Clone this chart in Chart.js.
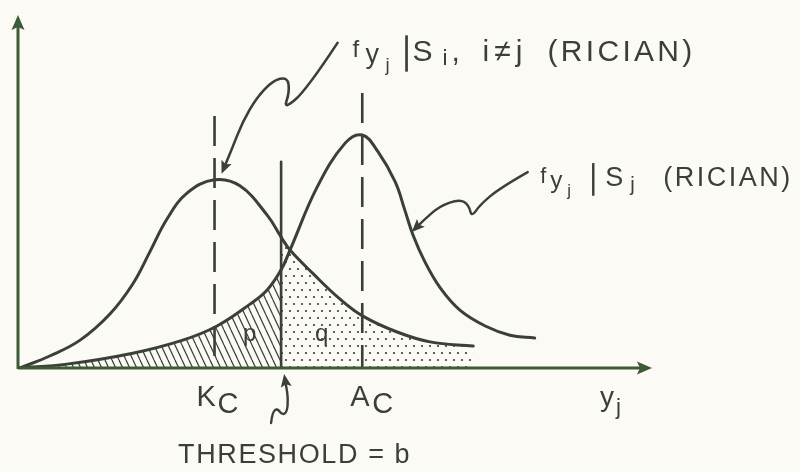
<!DOCTYPE html>
<html>
<head>
<meta charset="utf-8">
<script src="https://cdn.jsdelivr.net/npm/chart.js@4.4.1/dist/chart.umd.min.js"></script>
<style>
  html, body { margin: 0; padding: 0; background: #fbfaf5; }
  #wrap { width: 800px; height: 472px; }
</style>
</head>
<body>
<div id="wrap"><canvas id="c" width="800" height="472"></canvas></div>
<script>
// Envelope samples y_j and the two conditional Rician densities
const siX = [0.03, 0.50, 0.98, 1.45, 1.81, 2.08, 2.35, 2.67, 3.10, 3.50, 3.93, 4.15, 4.29, 4.65, 5.08, 5.44, 5.98, 6.50, 7.18];
const siY = [0.00, 0.034, 0.079, 0.153, 0.238, 0.329, 0.422, 0.496, 0.533, 0.516, 0.433, 0.371, 0.334, 0.268, 0.195, 0.147, 0.102, 0.074, 0.062];

const sjX = [0.03, 0.77, 1.81, 2.60, 3.14, 3.66, 3.93, 4.15, 4.29, 4.72, 5.16, 5.43, 5.68, 5.95, 6.10, 6.23, 6.42, 6.66, 6.97, 7.37, 7.76, 8.15];
const sjY = [0.00, 0.011, 0.042, 0.079, 0.119, 0.181, 0.221, 0.278, 0.334, 0.513, 0.637, 0.660, 0.612, 0.527, 0.448, 0.377, 0.300, 0.227, 0.164, 0.119, 0.093, 0.085];

// Marker positions on the y_j axis
const kC = 3.10;
const aC = 5.43;
const threshold = 4.15;
const markerTops = { kC: 0.714, aC: 0.779, threshold: 0.584 };

const ink = '#3a4036';
const axisInk = '#3d5a37';
const paper = '#fbfaf5';

const siPts = siX.map((x, i) => ({ x, y: siY[i] }));
const sjPts = sjX.map((x, i) => ({ x, y: sjY[i] }));
const siB = siX.indexOf(threshold);
const sjB = sjX.indexOf(threshold);

const canvas = document.getElementById('c');
const mainCtx = canvas.getContext('2d');

// Fill patterns: diagonal hatching (p) and staggered stipple (q)
function hatchPattern() {
  const t = document.createElement('canvas');
  t.width = 7; t.height = 15;
  const g = t.getContext('2d');
  g.strokeStyle = ink; g.lineWidth = 1.2;
  for (const off of [-7, 0, 7]) {
    g.beginPath(); g.moveTo(off, 0); g.lineTo(off + 7, 15); g.stroke();
  }
  return mainCtx.createPattern(t, 'repeat');
}
function dotPattern() {
  const t = document.createElement('canvas');
  t.width = 8; t.height = 14;
  const g = t.getContext('2d');
  g.fillStyle = ink;
  for (const [x, y] of [[2, 3], [6, 10]]) {
    g.beginPath(); g.arc(x, y, 1.1, 0, Math.PI * 2); g.fill();
  }
  return mainCtx.createPattern(t, 'repeat');
}
const hatch = hatchPattern();
const dots = dotPattern();
const clear = 'rgba(0,0,0,0)';

function vline(x, top, dash) {
  return {
    data: [{ x, y: top }, { x, y: 0 }],
    borderColor: ink, borderWidth: 2.6, borderDash: dash,
    pointRadius: 0, fill: false, tension: 0, borderCapStyle: 'butt'
  };
}

// Smooth hand-drawn leader with an arrowhead at its last point
function leader(ctx, pts, width) {
  ctx.save();
  ctx.strokeStyle = ink; ctx.fillStyle = ink;
  ctx.lineWidth = width; ctx.lineCap = 'round'; ctx.lineJoin = 'round';
  ctx.beginPath();
  ctx.moveTo(pts[0][0], pts[0][1]);
  for (let i = 1; i < pts.length - 1; i++) {
    const mx = (pts[i][0] + pts[i + 1][0]) / 2, my = (pts[i][1] + pts[i + 1][1]) / 2;
    ctx.quadraticCurveTo(pts[i][0], pts[i][1], mx, my);
  }
  const n = pts.length;
  const tip = pts[n - 1], prev = pts[n - 2];
  const ang = Math.atan2(tip[1] - prev[1], tip[0] - prev[0]);
  const bx = tip[0] - Math.cos(ang) * 10, by = tip[1] - Math.sin(ang) * 10;
  ctx.lineTo(bx, by);
  ctx.stroke();
  arrowHead(ctx, tip[0], tip[1], ang, 13, 5.5, ink);
  ctx.restore();
}
function arrowHead(ctx, x, y, ang, len, half, color) {
  ctx.save();
  ctx.translate(x, y); ctx.rotate(ang);
  ctx.fillStyle = color;
  ctx.beginPath();
  ctx.moveTo(0, 0); ctx.lineTo(-len, -half); ctx.lineTo(-len * 0.8, 0); ctx.lineTo(-len, half);
  ctx.closePath(); ctx.fill();
  ctx.restore();
}

// Caption made of placed runs: each run has its own x offset, size ratio and baseline shift.
// A run with bar:true is the tall "|" of the conditional density.
function drawCaption(ctx, x, y, size, spacing, runs) {
  ctx.save();
  ctx.fillStyle = ink; ctx.strokeStyle = ink;
  ctx.textBaseline = 'alphabetic'; ctx.textAlign = 'left';
  for (const r of runs) {
    const rx = x + r.at;
    if (r.bar) {
      ctx.lineWidth = size * 0.09;
      ctx.beginPath();
      ctx.moveTo(rx, y - size * 0.85); ctx.lineTo(rx, y + size * 0.36);
      ctx.stroke();
      continue;
    }
    const s = size * (r.s || 1);
    ctx.font = `${s}px "Liberation Sans", Arial, sans-serif`;
    ctx.letterSpacing = (r.ls !== undefined ? r.ls : spacing) + 'px';
    ctx.fillText(r.t, rx, y + (r.dy || 0) * size);
  }
  ctx.restore();
}

const overlay = {
  id: 'overlay',
  afterDatasetsDraw(chart) {
    const { ctx, scales: { x: xs, y: ys } } = chart;
    const P = (xv, yv) => [xs.getPixelForValue(xv), ys.getPixelForValue(yv)];
    const [ox, oy] = P(0, 0);
    const [ex] = P(xs.max, 0);
    const [, ty] = P(0, ys.max);

    // axes with arrowheads
    ctx.save();
    ctx.strokeStyle = axisInk; ctx.lineWidth = 3; ctx.lineCap = 'butt';
    ctx.beginPath();
    ctx.moveTo(ox, oy); ctx.lineTo(ex - 10, oy);
    ctx.moveTo(ox, oy + 1); ctx.lineTo(ox, ty + 10);
    ctx.stroke();
    ctx.restore();
    arrowHead(ctx, ex, oy, 0, 15, 6.5, axisInk);
    arrowHead(ctx, ox, ty, -Math.PI / 2, 15, 6.5, axisInk);

    // leaders from the captions to the curves, and to the threshold
    const rel = (anchor, offs) => offs.map(([dx, dy]) => [anchor[0] + dx, anchor[1] + dy]);
    const siPeak = P(kC, siY[siX.indexOf(kC)]);
    leader(ctx, rel(siPeak, [[123, -137], [92, -90], [69, -70], [75, -88], [73, -103], [58, -99],
      [42, -82], [28, -58], [17, -30], [7, -6]]), 2.6);
    const sjTip = P(6.21, 0.385);
    leader(ctx, rel(sjTip, [[116, -60], [88, -44], [68, -27], [60, -15], [57, -27], [48, -33],
      [28, -26], [12, -12], [0, 0]]), 2.4);
    const bBase = P(threshold, 0);
    leader(ctx, rel(bBase, [[-10, 55], [-9, 45], [-4, 40], [1, 47], [6, 44], [7, 30], [5, 18], [3, 6]]), 2.4);

    // captions
    const sjPeak = P(aC, sjY[sjX.indexOf(aC)]);
    drawCaption(ctx, siPeak[0] + 138, siPeak[1] - 119, 30, 3.3, [
      { t: 'f', at: 0, s: 0.8, dy: -0.12 }, { t: 'y', at: 13, s: 0.9, dy: 0.08 }, { t: 'j', at: 33, s: 0.62, dy: 0.34 },
      { bar: true, at: 54 },
      { t: 'S', at: 60 }, { t: 'i', at: 90, s: 0.75, dy: 0.15 }, { t: ',', at: 99 },
      { t: 'i≠j', at: 130, ls: 5 }, { t: '(RICIAN)', at: 195 }
    ]);
    drawCaption(ctx, sjPeak[0] + 178, sjPeak[1] + 51, 27, 2.5, [
      { t: 'f', at: 0, s: 0.8, dy: -0.12 }, { t: 'y', at: 10, s: 0.9, dy: 0.08 }, { t: 'j', at: 27, s: 0.62, dy: 0.36 },
      { bar: true, at: 53 },
      { t: 'S', at: 65 }, { t: 'j', at: 90, s: 0.75, dy: 0.18 },
      { t: '(RICIAN)', at: 123 }
    ]);
    drawCaption(ctx, P(kC, 0)[0] - 18, oy + 38, 29, 0, [{ t: 'K', at: 0 }, { t: 'C', at: 21, dy: 0.25 }]);
    drawCaption(ctx, P(aC, 0)[0] - 12, oy + 38, 29, 0, [{ t: 'A', at: 0 }, { t: 'C', at: 22, dy: 0.25 }]);
    drawCaption(ctx, ex - 52, oy + 38, 28, 0, [{ t: 'y', at: 0 }, { t: 'j', at: 16, s: 0.8, dy: 0.3 }]);
    drawCaption(ctx, bBase[0] - 103, oy + 95, 27, 1.6, [{ t: 'THRESHOLD = b', at: 0 }]);
    drawCaption(ctx, bBase[0] - 38, oy - 27, 24, 0, [{ t: 'p', at: 0 }]);
    drawCaption(ctx, bBase[0] + 34, oy - 27, 24, 0, [{ t: 'q', at: 0 }]);
  }
};

const paperBg = {
  id: 'paperBg',
  beforeDraw(chart) {
    const { ctx, width, height } = chart;
    ctx.save(); ctx.fillStyle = paper; ctx.fillRect(0, 0, width, height); ctx.restore();
  }
};

new Chart(canvas, {
  type: 'line',
  data: {
    datasets: [
      {
        label: 'f(y_j | S_j)',
        data: sjPts,
        borderColor: ink, borderWidth: 3,
        tension: 0.4,
        pointRadius: 0,
        fill: 'origin',
        backgroundColor: clear,
        segment: { backgroundColor: c => (c.p1DataIndex <= sjB ? hatch : clear) }
      },
      {
        label: 'f(y_j | S_i)',
        data: siPts,
        borderColor: ink, borderWidth: 3,
        tension: 0.4,
        pointRadius: 0,
        fill: 'origin',
        backgroundColor: clear,
        segment: { backgroundColor: c => (c.p0DataIndex >= siB ? dots : clear) }
      },
      vline(kC, markerTops.kC, [30, 12]),
      vline(aC, markerTops.aC, [30, 12]),
      vline(threshold, markerTops.threshold, [])
    ]
  },
  options: {
    responsive: false,
    animation: false,
    devicePixelRatio: 1,
    layout: { padding: { left: 18, right: 148, top: 15, bottom: 104 } },
    plugins: { legend: { display: false }, tooltip: { enabled: false }, title: { display: false } },
    scales: {
      x: { type: 'linear', min: 0, max: 10, display: false },
      y: { type: 'linear', min: 0, max: 1, display: false }
    },
    elements: { line: { borderJoinStyle: 'round', borderCapStyle: 'round' } }
  },
  plugins: [paperBg, overlay]
});
</script>
</body>
</html>
